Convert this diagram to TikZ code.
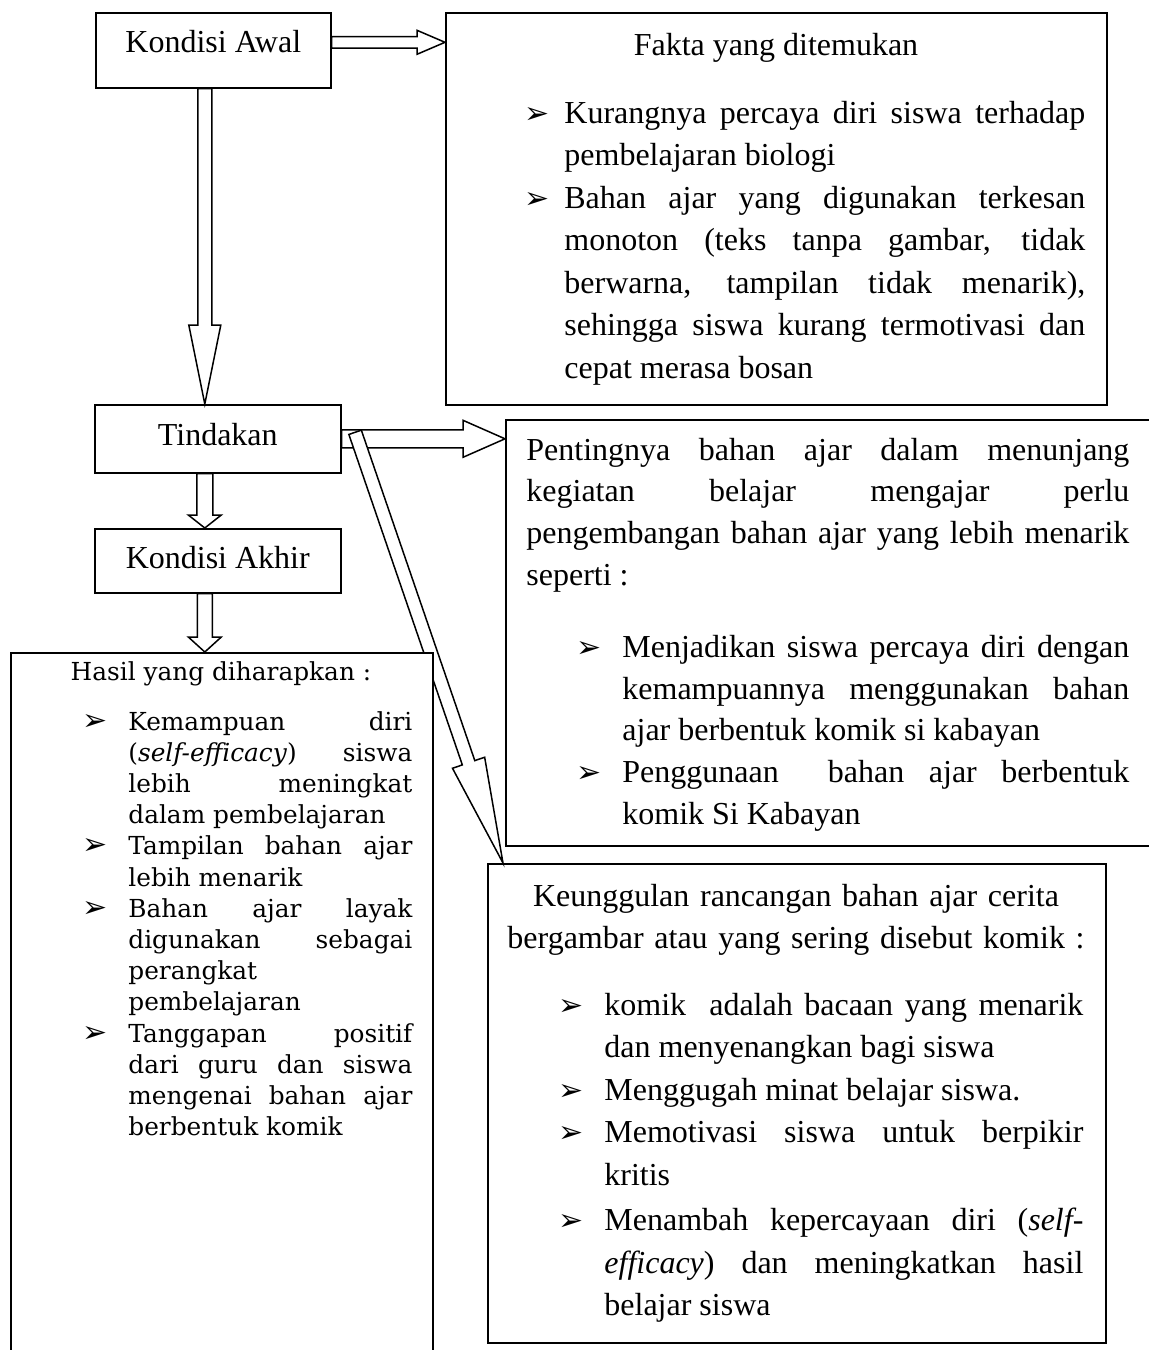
\documentclass[tikz,border=0pt]{standalone}
\usepackage{fontspec}
\setmainfont{Liberation Serif}
\newfontfamily\hasilfont{DejaVu Serif}
\newfontfamily\simbol{DejaVu Sans}
\usetikzlibrary{arrows.meta,positioning,calc}
\tolerance=10000
\hbadness=10000
\hyphenpenalty=10000
\newcommand\tanda{{\simbol\fontsize{15pt}{15pt}\selectfont ➢}}
\newcommand\butir[1]{\hangindent=#1\hangafter=1\noindent\makebox[#1][l]{\tanda}\ignorespaces}

\begin{document}
\begin{tikzpicture}[x=0.5pt,y=-0.5pt,
  kotak/.style={draw,line width=0.8pt,fill=white,inner sep=0pt,rectangle},
  kecil/.style={kotak,inner ysep=0pt,font=\fontsize{16pt}{20pt}\selectfont},
  blok/.style={draw,line width=0.75pt,fill=white,line join=miter},
  isi/.style={inner sep=0pt,align=justify,anchor=base west,font=\fontsize{16pt}{21.25pt}\selectfont},
  judul/.style={inner sep=0pt,anchor=base,font=\fontsize{16pt}{21pt}\selectfont}]
  \useasboundingbox (0,0) rectangle (1148,1350);
  \def\panah(#1)(#2)#3#4#5{
    \coordinate (pb) at ($(#2)!#5!(#1)$);
    \draw[blok] ($(#1)!#3!90:(#2)$) -- ($(pb)!#3!90:(#2)$) -- ($(pb)!#4!90:(#2)$)
      -- (#2) -- ($(pb)!#4!-90:(#2)$) -- ($(pb)!#3!-90:(#2)$) -- ($(#1)!#3!-90:(#2)$) -- cycle;
  }

  % kotak kiri
  \node[kecil,minimum width=117.5pt,text height=20pt,text depth=17.5pt,anchor=north west] (awal) at (95,12) {Kondisi Awal};
  \node[kecil,minimum width=123pt,text height=20.5pt,text depth=13.5pt,anchor=north west] (tindakan) at (94,404) {Tindakan};
  \node[kecil,minimum width=123pt,text height=20pt,text depth=12pt,anchor=north west] (akhir) at (94,528) {Kondisi Akhir};

  % kotak kanan
  \node[kotak,minimum width=330.5pt,minimum height=196pt,anchor=north west] (fakta) at (445,12) {};
  \node[kotak,minimum width=327.5pt,minimum height=213pt,anchor=north west] (penting) at (505,419) {};
  \node[kotak,minimum width=309pt,minimum height=239.5pt,anchor=north west] (unggul) at (487,863) {};

  % panah
  \coordinate (a1) at ([yshift=4pt]awal.east);
  \coordinate (b1) at (a1 -| fakta.west);
  \panah(a1)(b1){2.9pt}{6pt}{14pt}
  \coordinate (a2) at ([xshift=-4.25pt]awal.south);
  \coordinate (b2) at (a2 |- tindakan.north);
  \panah(a2)(b2){3.5pt}{8pt}{39.5pt}
  \coordinate (a3) at (tindakan.east);
  \coordinate (b3) at (a3 -| penting.west);
  \panah(a3)(b3){4.5pt}{9.25pt}{21pt}
  \coordinate (a4) at ([xshift=-6.5pt]tindakan.south);
  \coordinate (b4) at (a4 |- akhir.north);
  \panah(a4)(b4){4pt}{8.25pt}{6.5pt}
  \coordinate (a6) at ([shift={(6.75pt,3.25pt)}]tindakan.east);
  \coordinate (b6) at ([xshift=8pt]unggul.north west);
  \panah(a6)(b6){3.3pt}{8.5pt}{53pt}

  \node[kotak,minimum width=211pt,minimum height=355pt,anchor=north west] (hasil) at (10,652) {};
  \coordinate (a5) at ([xshift=-6.5pt]akhir.south);
  \coordinate (b5) at (a5 |- hasil.north);
  \panah(a5)(b5){3.75pt}{8.25pt}{7.5pt}

  % teks
  \node[judul] (faktajudul) at (776,55) {Fakta yang ditemukan};
  \node[isi,text width=280.5pt] (faktaisi) at (524,123) {%
    \butir{20pt}Kurangnya percaya diri siswa terhadap\linebreak pembelajaran biologi
    \par\butir{20pt}Bahan ajar yang digunakan terkesan\linebreak monoton (teks tanpa gambar, tidak\linebreak
    berwarna, tampilan tidak menarik),\linebreak sehingga siswa kurang termotivasi dan\linebreak cepat merasa bosan\par};

  \node[isi,text width=301.5pt,font=\fontsize{16pt}{20.9pt}\selectfont] (pentingisi) at (526,460) {%
    Pentingnya bahan ajar dalam menunjang\linebreak kegiatan belajar mengajar perlu\linebreak
    pengembangan bahan ajar yang lebih menarik\linebreak seperti :\par
    \vspace{15pt}\leftskip=25pt
    \butir{23pt}Menjadikan siswa percaya diri dengan\linebreak kemampuannya menggunakan bahan\linebreak ajar berbentuk komik si kabayan
    \par\butir{23pt}Penggunaan\ \ bahan ajar berbentuk\linebreak komik Si Kabayan\par};

  \node[judul,text width=300pt,align=center] (ungguljudul) at (796,906) {Keunggulan rancangan bahan ajar cerita\\ bergambar atau yang sering disebut komik :};
  \node[isi,text width=262.5pt] (unggulisi) at (558,1015) {%
    \butir{23pt}komik\ \ adalah bacaan yang menarik\linebreak dan menyenangkan bagi siswa
    \par\butir{23pt}Menggugah minat belajar siswa.
    \par\butir{23pt}Memotivasi siswa untuk berpikir\linebreak kritis
    \par\vspace{1.5pt}\butir{23pt}Menambah kepercayaan diri (\textit{self-}\linebreak\textit{efficacy}) dan meningkatkan hasil\linebreak belajar siswa\par};

  \node[judul,font=\hasilfont\fontsize{12.4pt}{15.55pt}\selectfont] (hasiljudul) at (221,680) {Hasil yang diharapkan :};
  \node[isi,text width=165pt,font=\hasilfont\fontsize{12.4pt}{15.6pt}\selectfont] (hasilisi) at (82,730) {%
    \butir{23pt}Kemampuan diri\linebreak (\textit{self-efficacy}) siswa\linebreak lebih meningkat\linebreak dalam pembelajaran
    \par\butir{23pt}Tampilan bahan ajar\linebreak lebih menarik
    \par\butir{23pt}Bahan ajar layak\linebreak digunakan sebagai\linebreak perangkat\linebreak pembelajaran
    \par\butir{23pt}Tanggapan positif\linebreak dari guru dan siswa\linebreak mengenai bahan ajar\linebreak berbentuk komik\par};
\end{tikzpicture}
\end{document}
